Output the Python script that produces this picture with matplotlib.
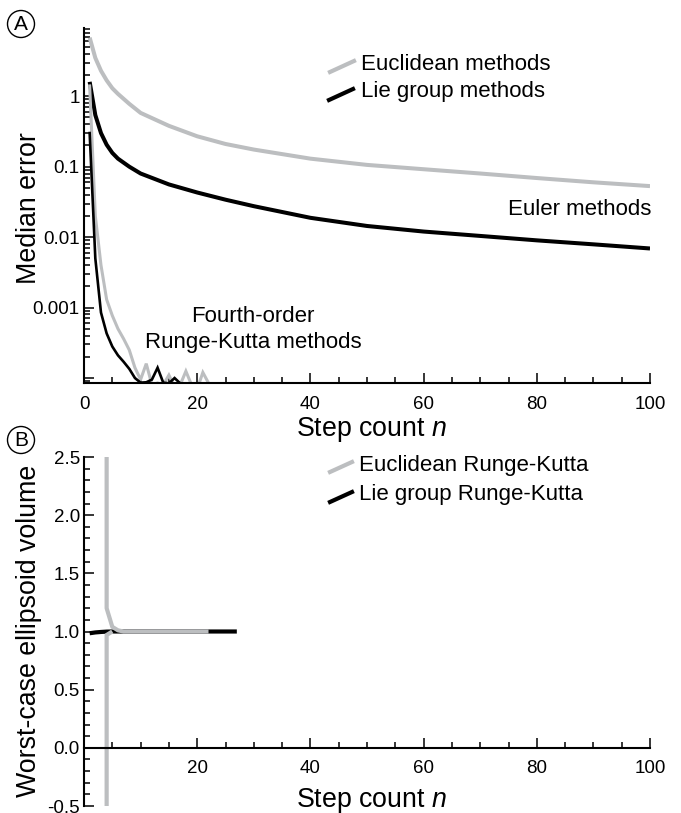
import matplotlib
matplotlib.use('Agg')
import matplotlib.pyplot as plt
from matplotlib.lines import Line2D
from matplotlib.patches import Ellipse
from matplotlib.ticker import FixedLocator, FixedFormatter, NullFormatter

plt.rcParams['font.family'] = ['Liberation Sans', 'DejaVu Sans']
plt.rcParams['mathtext.fontset'] = 'custom'
plt.rcParams['mathtext.rm'] = 'Liberation Sans'
plt.rcParams['mathtext.it'] = 'Liberation Sans:italic'

# ---------------- Panel A data ----------------
euler_n = [1, 2, 3, 4, 5, 6, 8, 10, 15, 20, 25, 30, 40, 50, 60, 70, 80, 90, 100]
euclid_euler_err = [6.8, 3.5, 2.3, 1.68, 1.3, 1.08, 0.78, 0.58, 0.38, 0.27, 0.21,
                    0.175, 0.13, 0.106, 0.092, 0.080, 0.069, 0.060, 0.053]
lie_euler_err = [1.6, 0.54, 0.30, 0.205, 0.157, 0.13, 0.10, 0.08, 0.056, 0.043,
                 0.034, 0.0275, 0.0188, 0.0144, 0.0120, 0.0104, 0.0090, 0.0079, 0.0069]

rk_euclid_n = [1, 2, 3, 4, 5, 6, 7, 8, 9, 10, 11, 12, 13, 14, 15, 16, 17, 18, 19, 20, 21, 22]
rk_euclid_err = [1.4, 0.02, 0.004, 1.3e-3, 7.7e-4, 5.0e-4, 3.6e-4, 2.5e-4, 1.4e-4, 9.5e-5,
                 1.6e-4, 8.0e-5, 8.5e-5, 8.0e-5, 1.1e-4, 7.5e-5, 8.0e-5, 1.25e-4, 8.0e-5,
                 7.0e-5, 1.2e-4, 8.5e-5]
rk_lie_n = [1, 2, 3, 4, 5, 6, 7, 8, 9, 10, 11, 12, 13, 14, 15, 16, 17]
rk_lie_err = [0.3, 0.005, 8.5e-4, 4.3e-4, 2.8e-4, 2.1e-4, 1.7e-4, 1.35e-4, 1.0e-4, 8.6e-5,
              8.7e-5, 9.5e-5, 1.4e-4, 8.6e-5, 8.4e-5, 1.0e-4, 8.4e-5]

a_yticks = [1e-4, 1e-3, 1e-2, 1e-1, 1]
a_yticklabels = ['', '0.001', '0.01', '0.1', '1']
a_xticks = [0, 20, 40, 60, 80, 100]
a_xticklabels = ['0', '20', '40', '60', '80', '100']

# ---------------- Panel B data ----------------
vol_lie_n = [1, 2, 3, 4, 5, 6, 7, 8, 9, 10, 11, 12, 13, 14, 15, 16, 17, 18, 19, 20,
             21, 22, 23, 24, 25, 26, 27]
vol_lie = [0.985, 0.992, 0.996, 0.999, 1.0, 1.0, 1.0, 1.0, 1.0, 1.0, 1.0, 1.0, 1.0, 1.0,
           1.0, 1.0, 1.0, 1.0, 1.0, 1.0, 1.0, 1.0, 1.0, 1.0, 1.0, 1.0, 1.0]
vol_euclid_n = [3, 4, 5, 6, 7, 8, 9, 10, 11, 12, 13, 14, 15, 16, 17, 18, 19, 20, 21, 22]
vol_euclid = [1e4, 1.2, 1.04, 1.01, 1.0, 1.0, 1.0, 1.0, 1.0, 1.0, 1.0, 1.0, 1.0, 1.0,
              1.0, 1.0, 1.0, 1.0, 1.0, 1.0]
vol_euclid_low_n = [3, 4, 5]
vol_euclid_low = [-1e4, 0.97, 1.0]

b_yticks = [-0.5, 0.0, 0.5, 1.0, 1.5, 2.0, 2.5]
b_yticklabels = ['-0.5', '0.0', '0.5', '1.0', '1.5', '2.0', '2.5']
b_xticks = [20, 40, 60, 80, 100]
b_xticklabels = ['20', '40', '60', '80', '100']

GRAY = '#bcbec0'
BLACK = '#000000'
W, H = 681, 813


def fx(px):
    return px / W


def fy(py):
    return 1 - py / H


fig = plt.figure(figsize=(W / 100, H / 100), dpi=100)

TICK_FS = 13.5
LABEL_FS = 19.3
ANN_FS = 16

# ---------------- Panel A ----------------
axA = fig.add_axes([fx(84), fy(383), fx(650) - fx(84), fy(28) - fy(383)])
axA.set_yscale('log')
axA.plot(euler_n, euclid_euler_err, color=GRAY, lw=2.9, solid_capstyle='butt')
axA.plot(euler_n, lie_euler_err, color=BLACK, lw=2.9, solid_capstyle='butt')
axA.plot(rk_euclid_n, rk_euclid_err, color=GRAY, lw=2.2, solid_joinstyle='miter')
axA.plot(rk_lie_n, rk_lie_err, color=BLACK, lw=1.9, solid_joinstyle='miter')
axA.set_xlim(0, 100)
axA.set_ylim(8.5e-5, 9.3)
for s in ['top', 'right']:
    axA.spines[s].set_visible(False)
for s in ['left', 'bottom']:
    axA.spines[s].set_linewidth(1.5)
axA.xaxis.set_major_locator(FixedLocator(a_xticks))
axA.xaxis.set_major_formatter(FixedFormatter(a_xticklabels))
axA.xaxis.set_minor_locator(FixedLocator([v for v in range(5, 100, 5) if v % 20]))
axA.yaxis.set_major_locator(FixedLocator(a_yticks))
axA.yaxis.set_major_formatter(FixedFormatter(a_yticklabels))
minors = []
for dec in [1e-5, 1e-4, 1e-3, 1e-2, 1e-1, 1]:
    for k in range(2, 10):
        minors.append(dec * k)
axA.yaxis.set_minor_locator(FixedLocator(minors))
axA.yaxis.set_minor_formatter(NullFormatter())
axA.tick_params(axis='both', which='both', direction='in', width=1.1, labelsize=TICK_FS)
axA.tick_params(axis='both', which='major', length=7)
axA.tick_params(axis='both', which='minor', length=4)
axA.tick_params(axis='x', which='major', pad=9)
axA.tick_params(axis='y', which='major', pad=3)

fig.text(fx(29), fy(208), 'Median error', rotation=90, ha='center', va='center', fontsize=LABEL_FS)
fig.text(fx(371), fy(429), 'Step count $n$', ha='center', va='center', fontsize=LABEL_FS)

# legend A
fig.add_artist(Line2D([fx(330), fx(354)], [fy(72), fy(61)], color=GRAY, lw=3, transform=fig.transFigure))
fig.add_artist(Line2D([fx(329), fx(353)], [fy(100), fy(89)], color=BLACK, lw=3, transform=fig.transFigure))
fig.text(fx(361), fy(64), 'Euclidean methods', ha='left', va='center', fontsize=ANN_FS)
fig.text(fx(361), fy(92), 'Lie group methods', ha='left', va='center', fontsize=ANN_FS)
fig.text(fx(651), fy(209), 'Euler methods', ha='right', va='center', fontsize=ANN_FS)
fig.text(fx(253), fy(316), 'Fourth-order', ha='center', va='center', fontsize=ANN_FS)
fig.text(fx(253), fy(342), 'Runge-Kutta methods', ha='center', va='center', fontsize=ANN_FS)

# ---------------- Panel B ----------------
axB = fig.add_axes([fx(84), fy(806), fx(650) - fx(84), fy(457) - fy(806)])
axB.plot(vol_lie_n, vol_lie, color=BLACK, lw=3, solid_capstyle='butt')
axB.plot(vol_euclid_n, vol_euclid, color=GRAY, lw=3, solid_capstyle='butt')
axB.plot(vol_euclid_low_n, vol_euclid_low, color=GRAY, lw=3, solid_capstyle='butt')
axB.set_xlim(0, 100)
axB.set_ylim(-0.5, 2.5)
for s in ['top', 'right']:
    axB.spines[s].set_visible(False)
axB.spines['bottom'].set_position(('data', 0))
for s in ['left', 'bottom']:
    axB.spines[s].set_linewidth(1.5)
axB.xaxis.set_major_locator(FixedLocator(b_xticks))
axB.xaxis.set_major_formatter(FixedFormatter(b_xticklabels))
axB.xaxis.set_minor_locator(FixedLocator([v for v in range(5, 100, 5) if v % 20]))
axB.yaxis.set_major_locator(FixedLocator(b_yticks))
axB.yaxis.set_major_formatter(FixedFormatter(b_yticklabels))
axB.yaxis.set_minor_locator(FixedLocator([x / 10 for x in range(-5, 26) if x % 5]))
axB.tick_params(axis='both', which='both', direction='in', width=1.1, labelsize=TICK_FS)
axB.tick_params(axis='both', which='major', length=7)
axB.tick_params(axis='both', which='minor', length=4)
axB.tick_params(axis='x', which='major', pad=8.5)
axB.tick_params(axis='y', which='major', pad=3)

fig.text(fx(29), fy(631), 'Worst-case ellipsoid volume', rotation=90, ha='center', va='center', fontsize=LABEL_FS)
fig.text(fx(371), fy(800), 'Step count $n$', ha='center', va='center', fontsize=LABEL_FS)

fig.add_artist(Line2D([fx(330), fx(352)], [fy(472), fy(462)], color=GRAY, lw=3, transform=fig.transFigure))
fig.add_artist(Line2D([fx(330), fx(352)], [fy(502), fy(492)], color=BLACK, lw=3, transform=fig.transFigure))
fig.text(fx(359), fy(465), 'Euclidean Runge-Kutta', ha='left', va='center', fontsize=ANN_FS)
fig.text(fx(359), fy(494), 'Lie group Runge-Kutta', ha='left', va='center', fontsize=ANN_FS)

# panel letters
for cx, cy, letter in [(21, 24, 'A'), (21, 440, 'B')]:
    fig.add_artist(Ellipse((fx(cx), fy(cy)), 27 / W, 27 / H, transform=fig.transFigure,
                           fill=False, ec='black', lw=1.0))
    fig.text(fx(cx), fy(cy), letter, ha='center', va='center', fontsize=15)

fig.savefig('out.png', dpi=100)
